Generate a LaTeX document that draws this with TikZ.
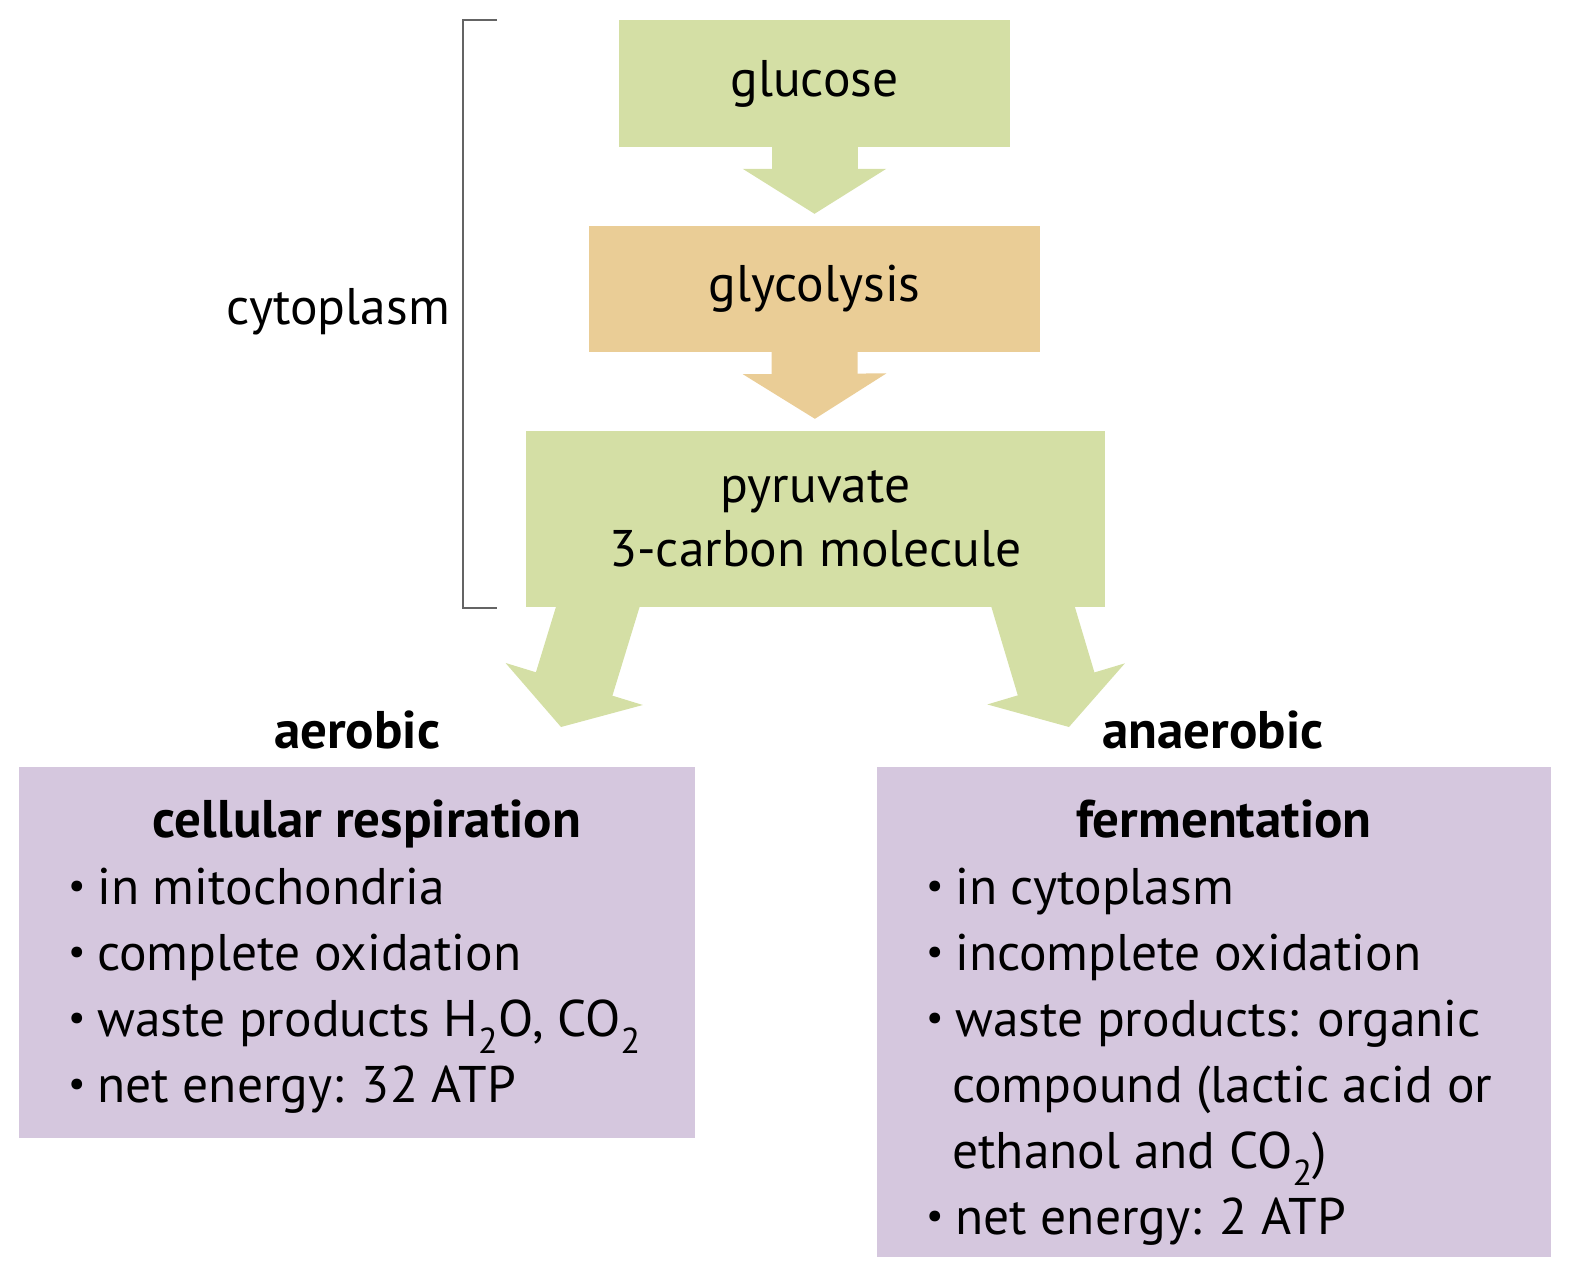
\documentclass[tikz,border=0pt]{standalone}
\usepackage{fontspec}
\setmainfont{PT Sans}
\usepackage{graphicx}
\usetikzlibrary{arrows.meta}
\definecolor{leaf}{RGB}{212,223,165}
\definecolor{amber}{RGB}{234,205,150}
\definecolor{lilac}{RGB}{213,199,222}
\definecolor{bracketgrey}{RGB}{100,100,100}
\newcommand{\bigsz}{\fontsize{51.5}{64}\selectfont}
\newcommand{\bitem}{\makebox[29pt][l]{\raisebox{0.1em}{\scalebox{0.75}{\textbullet}}}}
\tikzset{
  stage/.style={fill=#1, draw=none, align=center, inner sep=0pt, font=\bigsz},
  fatarrow/.style={draw=#1, line width=86pt, -{Triangle[width=143pt,length=45pt,line width=4pt]}},
  line/.style={anchor=base west, inner sep=0pt, font=\bigsz},
  head/.style={anchor=base, inner sep=0pt, font=\fontsize{53}{64}\selectfont\bfseries}
}

\begin{document}
\begin{tikzpicture}[x=1pt,y=-1pt]
\useasboundingbox (0,0) rectangle (1571,1276);
% top chain
\node[stage=leaf, minimum width=391pt, minimum height=127pt] (glucose) at (814.5,83.5) {glucose};
\node[stage=amber, minimum width=451pt, minimum height=126pt] (glycolysis) at (814.5,289) {glycolysis};
\node[stage=leaf, minimum width=579pt, minimum height=176pt] (pyruvate) at (815.5,519) {pyruvate\\3-carbon molecule};
\draw[fatarrow=leaf, shorten >=12pt] ([yshift=2pt]glucose.south) -- (glycolysis);
\draw[fatarrow=amber, shorten >=12pt] ([yshift=2pt]glycolysis.south) -- (pyruvate);
% bracket
\draw[bracketgrey, line width=2.5pt] (497,20) -- (463,20) -- (463,608) -- (497,608);
\node[line, anchor=base east] (cyto) at (450,324) {cytoplasm};
% split
\coordinate (aerotip) at (561,727);
\coordinate (anaerotip) at (1069,727);
\draw[fatarrow=leaf, line width=80pt] ([xshift=-212pt,yshift=19pt]pyruvate.south) -- (aerotip);
\draw[fatarrow=leaf, line width=80pt] ([xshift=212pt,yshift=19pt]pyruvate.south) -- (anaerotip);
\node[head] (aerobic) at (357,748) {aerobic};
\node[head] (anaerobic) at (1213,748) {anaerobic};
% outcome boxes
\node[stage=lilac, minimum width=676pt, minimum height=371pt] (resp) at (357,952.5) {};
\node[stage=lilac, minimum width=674pt, minimum height=490pt] (ferm) at (1214,1012) {};
\node[head] (resphead) at (367,837) {cellular respiration};
\node[line] (r1) at (68,904) {\bitem in mitochondria};
\node[line] (r2) at (68,970) {\bitem complete oxidation};
\node[line] (r3) at (68,1036) {\bitem waste products H\textsubscript{2}O, CO\textsubscript{2}};
\node[line] (r4) at (68,1102) {\bitem net energy: 32 ATP};
\node[head] (fermhead) at (1224,837) {fermentation};
\node[line] (f1) at (926,904) {\bitem in cytoplasm};
\node[line] (f2) at (926,970) {\bitem incomplete oxidation};
\node[line] (f3) at (926,1036) {\bitem waste products: organic};
\node[line] (f4) at (952,1102) {compound (lactic acid or};
\node[line] (f5) at (952,1168) {ethanol and CO\textsubscript{2})};
\node[line] (f6) at (926,1234) {\bitem net energy: 2 ATP};
\end{tikzpicture}
\end{document}
